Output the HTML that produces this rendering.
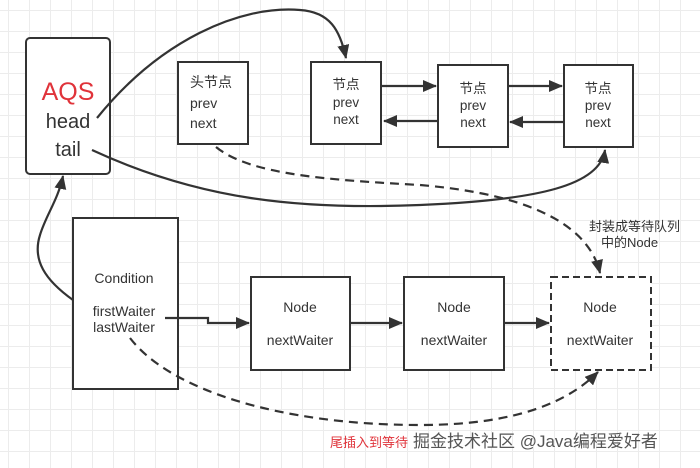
<!DOCTYPE html>
<html><head><meta charset="utf-8"><style>
body{margin:0;width:700px;height:468px;overflow:hidden;background:#fff;
background-image:linear-gradient(#ececec 1px,transparent 1px),linear-gradient(90deg,#ececec 1px,transparent 1px);background-size:21px 21px;background-position:8px 10px;}
svg{position:absolute;left:0;top:0}
text{font-family:"Liberation Sans","Noto Sans CJK SC",sans-serif;fill:#333}
</style></head><body>
<svg width="700" height="468" viewBox="0 0 700 468">
<defs><marker id="b" markerWidth="14" markerHeight="12" refX="13" refY="6" orient="auto" markerUnits="userSpaceOnUse"><path d="M0,0 L14,6 L0,12 Z" fill="#333"/></marker></defs>
<g fill="#fff" stroke="#333" stroke-width="2">
<rect x="26" y="38" width="84" height="136" rx="4"/>
<rect x="178" y="62" width="70" height="82"/>
<rect x="311" y="62" width="70" height="82"/>
<rect x="438" y="65" width="70" height="82"/>
<rect x="564" y="65" width="69" height="82"/>
<rect x="73" y="218" width="105" height="171"/>
<rect x="251" y="277" width="99" height="93"/>
<rect x="404" y="277" width="100" height="93"/>
<rect x="551" y="277" width="100" height="93" stroke-dasharray="7,4"/>
</g>
<text x="68" y="100" text-anchor="middle" font-size="25" style="fill:#e0333a">AQS</text>
<text x="68" y="128" text-anchor="middle" font-size="20">head</text>
<text x="68" y="156" text-anchor="middle" font-size="20">tail</text>
<g font-size="14"><text x="190" y="87">头节点</text><text x="190" y="108">prev</text><text x="190" y="128">next</text></g>
<g font-size="13.5" text-anchor="middle">
<text x="346" y="89">节点</text><text x="346" y="107">prev</text><text x="346" y="124">next</text>
<text x="473" y="93">节点</text><text x="473" y="110">prev</text><text x="473" y="127">next</text>
<text x="598" y="93">节点</text><text x="598" y="110">prev</text><text x="598" y="127">next</text>
</g>
<g font-size="14" text-anchor="middle">
<text x="124" y="283">Condition</text><text x="124" y="316">firstWaiter</text><text x="124" y="332">lastWaiter</text>
<text x="300" y="312">Node</text><text x="300" y="345">nextWaiter</text>
<text x="454" y="312">Node</text><text x="454" y="345">nextWaiter</text>
<text x="600" y="312">Node</text><text x="600" y="345">nextWaiter</text>
</g>
<g font-size="13"><text x="589" y="231">封装成等待队列</text><text x="601" y="247">中的Node</text></g>
<text x="330" y="447" font-size="13" style="fill:#e0333a">尾插入到等待</text>
<text x="413" y="447" font-size="17" style="fill:#555">掘金技术社区 @Java编程爱好者</text>
<g fill="none" stroke="#333" stroke-width="2.2">
<path d="M97,118 C160,40 240,5 300,10 C330,12 340,30 346,58" marker-end="url(#b)"/>
<path d="M92,150 C200,200 300,210 420,205 C540,200 600,185 605,150" marker-end="url(#b)"/>
<path d="M73,300 C45,280 32,260 40,235 C46,215 58,200 63,176" marker-end="url(#b)"/>
<path d="M381,86 L436,86" marker-end="url(#b)"/>
<path d="M508,86 L562,86" marker-end="url(#b)"/>
<path d="M438,121 L384,121" marker-end="url(#b)"/>
<path d="M564,122 L510,122" marker-end="url(#b)"/>
<path d="M165,318 L208,318 L208,323 L249,323" marker-end="url(#b)"/>
<path d="M350,323 L402,323" marker-end="url(#b)"/>
<path d="M504,323 L549,323" marker-end="url(#b)"/>
<path d="M216,147 C250,175 330,180 420,185 C540,195 590,230 600,273" stroke-dasharray="9,6" marker-end="url(#b)"/>
<path d="M130,338 C170,390 280,425 420,425 C520,425 570,400 598,372" stroke-dasharray="9,6" marker-end="url(#b)"/>
</g>
</svg>
</body></html>
